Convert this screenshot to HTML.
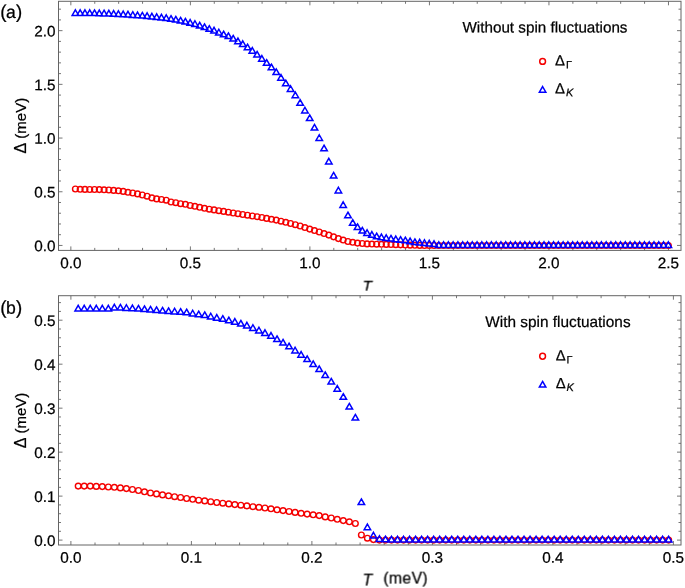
<!DOCTYPE html>
<html><head><meta charset="utf-8"><title>Gap vs temperature</title>
<style>html,body{margin:0;padding:0;background:#fff;}body{width:685px;height:588px;overflow:hidden;font-family:"Liberation Sans",sans-serif;}svg{display:block;}</style>
</head><body>
<svg width="685" height="588" viewBox="0 0 685 588" font-family="Liberation Sans, sans-serif">
<defs><filter id="gs" x="-5%" y="-5%" width="110%" height="110%" color-interpolation-filters="sRGB"><feColorMatrix type="saturate" values="0"/></filter></defs>
<rect width="685" height="588" fill="#fff"/>
<g stroke="#484848" stroke-width="0.75" fill="none">
<path d="M70.85 250.4v-4.0M70.85 1.3v4.0"/>
<path d="M94.75 250.4v-2.5M94.75 1.3v2.5"/>
<path d="M118.66 250.4v-2.5M118.66 1.3v2.5"/>
<path d="M142.56 250.4v-2.5M142.56 1.3v2.5"/>
<path d="M166.47 250.4v-2.5M166.47 1.3v2.5"/>
<path d="M190.38 250.4v-4.0M190.38 1.3v4.0"/>
<path d="M214.28 250.4v-2.5M214.28 1.3v2.5"/>
<path d="M238.19 250.4v-2.5M238.19 1.3v2.5"/>
<path d="M262.09 250.4v-2.5M262.09 1.3v2.5"/>
<path d="M286.00 250.4v-2.5M286.00 1.3v2.5"/>
<path d="M309.90 250.4v-4.0M309.90 1.3v4.0"/>
<path d="M333.81 250.4v-2.5M333.81 1.3v2.5"/>
<path d="M357.71 250.4v-2.5M357.71 1.3v2.5"/>
<path d="M381.62 250.4v-2.5M381.62 1.3v2.5"/>
<path d="M405.52 250.4v-2.5M405.52 1.3v2.5"/>
<path d="M429.43 250.4v-4.0M429.43 1.3v4.0"/>
<path d="M453.33 250.4v-2.5M453.33 1.3v2.5"/>
<path d="M477.24 250.4v-2.5M477.24 1.3v2.5"/>
<path d="M501.14 250.4v-2.5M501.14 1.3v2.5"/>
<path d="M525.04 250.4v-2.5M525.04 1.3v2.5"/>
<path d="M548.95 250.4v-4.0M548.95 1.3v4.0"/>
<path d="M572.86 250.4v-2.5M572.86 1.3v2.5"/>
<path d="M596.76 250.4v-2.5M596.76 1.3v2.5"/>
<path d="M620.66 250.4v-2.5M620.66 1.3v2.5"/>
<path d="M644.57 250.4v-2.5M644.57 1.3v2.5"/>
<path d="M668.48 250.4v-4.0M668.48 1.3v4.0"/>
<path d="M58.5 245.45h4.0M681.0 245.45h-4.0"/>
<path d="M58.5 234.71h2.5M681.0 234.71h-2.5"/>
<path d="M58.5 223.97h2.5M681.0 223.97h-2.5"/>
<path d="M58.5 213.23h2.5M681.0 213.23h-2.5"/>
<path d="M58.5 202.49h2.5M681.0 202.49h-2.5"/>
<path d="M58.5 191.75h4.0M681.0 191.75h-4.0"/>
<path d="M58.5 181.01h2.5M681.0 181.01h-2.5"/>
<path d="M58.5 170.27h2.5M681.0 170.27h-2.5"/>
<path d="M58.5 159.53h2.5M681.0 159.53h-2.5"/>
<path d="M58.5 148.79h2.5M681.0 148.79h-2.5"/>
<path d="M58.5 138.05h4.0M681.0 138.05h-4.0"/>
<path d="M58.5 127.31h2.5M681.0 127.31h-2.5"/>
<path d="M58.5 116.57h2.5M681.0 116.57h-2.5"/>
<path d="M58.5 105.83h2.5M681.0 105.83h-2.5"/>
<path d="M58.5 95.09h2.5M681.0 95.09h-2.5"/>
<path d="M58.5 84.35h4.0M681.0 84.35h-4.0"/>
<path d="M58.5 73.61h2.5M681.0 73.61h-2.5"/>
<path d="M58.5 62.87h2.5M681.0 62.87h-2.5"/>
<path d="M58.5 52.13h2.5M681.0 52.13h-2.5"/>
<path d="M58.5 41.39h2.5M681.0 41.39h-2.5"/>
<path d="M58.5 30.65h4.0M681.0 30.65h-4.0"/>
<path d="M58.5 19.91h2.5M681.0 19.91h-2.5"/>
<path d="M58.5 9.17h2.5M681.0 9.17h-2.5"/>
</g>
<rect x="58.5" y="1.3" width="622.5" height="249.1" fill="none" stroke="#646464" stroke-width="1"/>
<g fill="none" stroke="#f40000" stroke-width="1.4">
<circle cx="75.38" cy="189.00" r="2.85"/>
<circle cx="80.16" cy="189.30" r="2.85"/>
<circle cx="84.95" cy="189.40" r="2.85"/>
<circle cx="89.73" cy="189.50" r="2.85"/>
<circle cx="94.51" cy="189.50" r="2.85"/>
<circle cx="99.29" cy="189.60" r="2.85"/>
<circle cx="104.07" cy="189.80" r="2.85"/>
<circle cx="108.86" cy="190.00" r="2.85"/>
<circle cx="113.64" cy="190.40" r="2.85"/>
<circle cx="118.42" cy="190.80" r="2.85"/>
<circle cx="123.20" cy="191.40" r="2.85"/>
<circle cx="127.98" cy="192.30" r="2.85"/>
<circle cx="132.77" cy="193.00" r="2.85"/>
<circle cx="137.55" cy="193.90" r="2.85"/>
<circle cx="142.33" cy="195.00" r="2.85"/>
<circle cx="147.11" cy="196.20" r="2.85"/>
<circle cx="151.89" cy="197.90" r="2.85"/>
<circle cx="156.68" cy="198.90" r="2.85"/>
<circle cx="161.46" cy="199.50" r="2.85"/>
<circle cx="166.24" cy="200.20" r="2.85"/>
<circle cx="171.02" cy="202.00" r="2.85"/>
<circle cx="175.80" cy="202.70" r="2.85"/>
<circle cx="180.59" cy="203.70" r="2.85"/>
<circle cx="185.37" cy="204.30" r="2.85"/>
<circle cx="190.15" cy="205.50" r="2.85"/>
<circle cx="194.93" cy="206.30" r="2.85"/>
<circle cx="199.71" cy="207.30" r="2.85"/>
<circle cx="204.50" cy="208.30" r="2.85"/>
<circle cx="209.28" cy="209.20" r="2.85"/>
<circle cx="214.06" cy="209.90" r="2.85"/>
<circle cx="218.84" cy="210.70" r="2.85"/>
<circle cx="223.62" cy="211.40" r="2.85"/>
<circle cx="228.41" cy="212.20" r="2.85"/>
<circle cx="233.19" cy="213.00" r="2.85"/>
<circle cx="237.97" cy="213.70" r="2.85"/>
<circle cx="242.75" cy="214.50" r="2.85"/>
<circle cx="247.53" cy="215.20" r="2.85"/>
<circle cx="252.32" cy="216.00" r="2.85"/>
<circle cx="257.10" cy="216.70" r="2.85"/>
<circle cx="261.88" cy="217.50" r="2.85"/>
<circle cx="266.66" cy="218.40" r="2.85"/>
<circle cx="271.44" cy="219.30" r="2.85"/>
<circle cx="276.23" cy="220.10" r="2.85"/>
<circle cx="281.01" cy="221.20" r="2.85"/>
<circle cx="285.79" cy="222.30" r="2.85"/>
<circle cx="290.57" cy="223.50" r="2.85"/>
<circle cx="295.35" cy="224.70" r="2.85"/>
<circle cx="300.14" cy="226.00" r="2.85"/>
<circle cx="304.92" cy="227.55" r="2.85"/>
<circle cx="309.70" cy="229.10" r="2.85"/>
<circle cx="314.48" cy="230.55" r="2.85"/>
<circle cx="319.26" cy="232.00" r="2.85"/>
<circle cx="324.05" cy="233.55" r="2.85"/>
<circle cx="328.83" cy="235.10" r="2.85"/>
<circle cx="333.61" cy="236.85" r="2.85"/>
<circle cx="338.39" cy="238.60" r="2.85"/>
<circle cx="343.17" cy="240.05" r="2.85"/>
<circle cx="347.96" cy="241.50" r="2.85"/>
<circle cx="352.74" cy="242.30" r="2.85"/>
<circle cx="357.52" cy="243.10" r="2.85"/>
<circle cx="362.30" cy="243.50" r="2.85"/>
<circle cx="367.08" cy="243.90" r="2.85"/>
<circle cx="371.87" cy="244.05" r="2.85"/>
<circle cx="376.65" cy="244.20" r="2.85"/>
<circle cx="381.43" cy="244.30" r="2.85"/>
<circle cx="386.21" cy="244.40" r="2.85"/>
<circle cx="390.99" cy="244.55" r="2.85"/>
<circle cx="395.78" cy="244.70" r="2.85"/>
<circle cx="400.56" cy="244.85" r="2.85"/>
<circle cx="405.34" cy="245.00" r="2.85"/>
<circle cx="410.12" cy="245.15" r="2.85"/>
<circle cx="414.90" cy="245.30" r="2.85"/>
<circle cx="419.69" cy="245.40" r="2.85"/>
<circle cx="424.47" cy="245.50" r="2.85"/>
<circle cx="429.25" cy="245.50" r="2.85"/>
<circle cx="434.03" cy="245.50" r="2.85"/>
<circle cx="438.81" cy="245.50" r="2.85"/>
<circle cx="443.60" cy="245.50" r="2.85"/>
<circle cx="448.38" cy="245.50" r="2.85"/>
<circle cx="453.16" cy="245.50" r="2.85"/>
<circle cx="457.94" cy="245.50" r="2.85"/>
<circle cx="462.72" cy="245.50" r="2.85"/>
<circle cx="467.51" cy="245.50" r="2.85"/>
<circle cx="472.29" cy="245.50" r="2.85"/>
<circle cx="477.07" cy="245.50" r="2.85"/>
<circle cx="481.85" cy="245.50" r="2.85"/>
<circle cx="486.63" cy="245.50" r="2.85"/>
<circle cx="491.42" cy="245.50" r="2.85"/>
<circle cx="496.20" cy="245.50" r="2.85"/>
<circle cx="500.98" cy="245.50" r="2.85"/>
<circle cx="505.76" cy="245.50" r="2.85"/>
<circle cx="510.54" cy="245.50" r="2.85"/>
<circle cx="515.33" cy="245.50" r="2.85"/>
<circle cx="520.11" cy="245.50" r="2.85"/>
<circle cx="524.89" cy="245.50" r="2.85"/>
<circle cx="529.67" cy="245.50" r="2.85"/>
<circle cx="534.45" cy="245.50" r="2.85"/>
<circle cx="539.24" cy="245.50" r="2.85"/>
<circle cx="544.02" cy="245.50" r="2.85"/>
<circle cx="548.80" cy="245.50" r="2.85"/>
<circle cx="553.58" cy="245.50" r="2.85"/>
<circle cx="558.36" cy="245.50" r="2.85"/>
<circle cx="563.15" cy="245.50" r="2.85"/>
<circle cx="567.93" cy="245.50" r="2.85"/>
<circle cx="572.71" cy="245.50" r="2.85"/>
<circle cx="577.49" cy="245.50" r="2.85"/>
<circle cx="582.27" cy="245.50" r="2.85"/>
<circle cx="587.06" cy="245.50" r="2.85"/>
<circle cx="591.84" cy="245.50" r="2.85"/>
<circle cx="596.62" cy="245.50" r="2.85"/>
<circle cx="601.40" cy="245.50" r="2.85"/>
<circle cx="606.18" cy="245.50" r="2.85"/>
<circle cx="610.97" cy="245.50" r="2.85"/>
<circle cx="615.75" cy="245.50" r="2.85"/>
<circle cx="620.53" cy="245.50" r="2.85"/>
<circle cx="625.31" cy="245.50" r="2.85"/>
<circle cx="630.09" cy="245.50" r="2.85"/>
<circle cx="634.88" cy="245.50" r="2.85"/>
<circle cx="639.66" cy="245.50" r="2.85"/>
<circle cx="644.44" cy="245.50" r="2.85"/>
<circle cx="649.22" cy="245.50" r="2.85"/>
<circle cx="654.00" cy="245.50" r="2.85"/>
<circle cx="658.79" cy="245.50" r="2.85"/>
<circle cx="663.57" cy="245.50" r="2.85"/>
<circle cx="668.35" cy="245.50" r="2.85"/>
</g>
<g fill="none" stroke="#0000ff" stroke-width="1.5" stroke-linejoin="miter">
<path d="M75.38 9.85L78.63 15.50L72.13 15.50ZM80.16 9.85L83.41 15.50L76.91 15.50ZM84.95 9.85L88.20 15.50L81.70 15.50ZM89.73 9.85L92.98 15.50L86.48 15.50ZM94.51 9.98L97.76 15.62L91.26 15.62ZM99.29 10.10L102.54 15.75L96.04 15.75ZM104.07 10.23L107.32 15.88L100.82 15.88ZM108.86 10.35L112.11 16.00L105.61 16.00ZM113.64 10.60L116.89 16.25L110.39 16.25ZM118.42 10.85L121.67 16.50L115.17 16.50ZM123.20 11.10L126.45 16.75L119.95 16.75ZM127.98 11.35L131.23 17.00L124.73 17.00ZM132.77 11.73L136.02 17.38L129.52 17.38ZM137.55 12.10L140.80 17.75L134.30 17.75ZM142.33 12.48L145.58 18.12L139.08 18.12ZM147.11 12.85L150.36 18.50L143.86 18.50ZM151.89 13.35L155.14 19.00L148.64 19.00ZM156.68 13.85L159.93 19.50L153.43 19.50ZM161.46 14.35L164.71 20.00L158.21 20.00ZM166.24 14.85L169.49 20.50L162.99 20.50ZM171.02 15.65L174.27 21.30L167.77 21.30ZM175.80 16.45L179.05 22.10L172.55 22.10ZM180.59 17.45L183.84 23.10L177.34 23.10ZM185.37 18.45L188.62 24.10L182.12 24.10ZM190.15 19.55L193.40 25.20L186.90 25.20ZM194.93 20.75L198.18 26.40L191.68 26.40ZM199.71 22.35L202.96 28.00L196.46 28.00ZM204.50 23.95L207.75 29.60L201.25 29.60ZM209.28 25.65L212.53 31.30L206.03 31.30ZM214.06 27.35L217.31 33.00L210.81 33.00ZM218.84 29.25L222.09 34.90L215.59 34.90ZM223.62 31.15L226.87 36.80L220.37 36.80ZM228.41 32.95L231.66 38.60L225.16 38.60ZM233.19 35.45L236.44 41.10L229.94 41.10ZM237.97 38.05L241.22 43.70L234.72 43.70ZM242.75 40.85L246.00 46.50L239.50 46.50ZM247.53 44.15L250.78 49.80L244.28 49.80ZM252.32 47.55L255.57 53.20L249.07 53.20ZM257.10 51.45L260.35 57.10L253.85 57.10ZM261.88 55.55L265.13 61.20L258.63 61.20ZM266.66 59.65L269.91 65.30L263.41 65.30ZM271.44 64.15L274.69 69.80L268.19 69.80ZM276.23 68.95L279.48 74.60L272.98 74.60ZM281.01 74.55L284.26 80.20L277.76 80.20ZM285.79 80.15L289.04 85.80L282.54 85.80ZM290.57 85.75L293.82 91.40L287.32 91.40ZM295.35 92.05L298.60 97.70L292.10 97.70ZM300.14 99.65L303.39 105.30L296.89 105.30ZM304.92 107.25L308.17 112.90L301.67 112.90ZM309.70 114.95L312.95 120.60L306.45 120.60ZM314.48 124.45L317.73 130.10L311.23 130.10ZM319.26 134.75L322.51 140.40L316.01 140.40ZM324.05 145.15L327.30 150.80L320.80 150.80ZM328.83 158.35L332.08 164.00L325.58 164.00ZM333.61 172.45L336.86 178.10L330.36 178.10ZM338.39 187.25L341.64 192.90L335.14 192.90ZM343.17 201.85L346.42 207.50L339.92 207.50ZM347.96 212.15L351.21 217.80L344.71 217.80ZM352.74 219.65L355.99 225.30L349.49 225.30ZM357.52 223.95L360.77 229.60L354.27 229.60ZM362.30 227.45L365.55 233.10L359.05 233.10ZM367.08 229.75L370.33 235.40L363.83 235.40ZM371.87 231.55L375.12 237.20L368.62 237.20ZM376.65 233.15L379.90 238.80L373.40 238.80ZM381.43 234.05L384.68 239.70L378.18 239.70ZM386.21 234.85L389.46 240.50L382.96 240.50ZM390.99 235.45L394.24 241.10L387.74 241.10ZM395.78 236.05L399.03 241.70L392.53 241.70ZM400.56 236.65L403.81 242.30L397.31 242.30ZM405.34 237.15L408.59 242.80L402.09 242.80ZM410.12 238.05L413.37 243.70L406.87 243.70ZM414.90 238.95L418.15 244.60L411.65 244.60ZM419.69 239.35L422.94 245.00L416.44 245.00ZM424.47 239.75L427.72 245.40L421.22 245.40ZM429.25 240.25L432.50 245.90L426.00 245.90ZM434.03 240.85L437.28 246.50L430.78 246.50ZM438.81 241.85L442.06 247.50L435.56 247.50ZM443.60 241.85L446.85 247.50L440.35 247.50ZM448.38 241.85L451.63 247.50L445.13 247.50ZM453.16 241.85L456.41 247.50L449.91 247.50ZM457.94 241.85L461.19 247.50L454.69 247.50ZM462.72 241.85L465.97 247.50L459.47 247.50ZM467.51 241.85L470.76 247.50L464.26 247.50ZM472.29 241.85L475.54 247.50L469.04 247.50ZM477.07 241.85L480.32 247.50L473.82 247.50ZM481.85 241.85L485.10 247.50L478.60 247.50ZM486.63 241.85L489.88 247.50L483.38 247.50ZM491.42 241.85L494.67 247.50L488.17 247.50ZM496.20 241.85L499.45 247.50L492.95 247.50ZM500.98 241.85L504.23 247.50L497.73 247.50ZM505.76 241.85L509.01 247.50L502.51 247.50ZM510.54 241.85L513.79 247.50L507.29 247.50ZM515.33 241.85L518.58 247.50L512.08 247.50ZM520.11 241.85L523.36 247.50L516.86 247.50ZM524.89 241.85L528.14 247.50L521.64 247.50ZM529.67 241.85L532.92 247.50L526.42 247.50ZM534.45 241.85L537.70 247.50L531.20 247.50ZM539.24 241.85L542.49 247.50L535.99 247.50ZM544.02 241.85L547.27 247.50L540.77 247.50ZM548.80 241.85L552.05 247.50L545.55 247.50ZM553.58 241.85L556.83 247.50L550.33 247.50ZM558.36 241.85L561.61 247.50L555.11 247.50ZM563.15 241.85L566.40 247.50L559.90 247.50ZM567.93 241.85L571.18 247.50L564.68 247.50ZM572.71 241.85L575.96 247.50L569.46 247.50ZM577.49 241.85L580.74 247.50L574.24 247.50ZM582.27 241.85L585.52 247.50L579.02 247.50ZM587.06 241.85L590.31 247.50L583.81 247.50ZM591.84 241.85L595.09 247.50L588.59 247.50ZM596.62 241.85L599.87 247.50L593.37 247.50ZM601.40 241.85L604.65 247.50L598.15 247.50ZM606.18 241.85L609.43 247.50L602.93 247.50ZM610.97 241.85L614.22 247.50L607.72 247.50ZM615.75 241.85L619.00 247.50L612.50 247.50ZM620.53 241.85L623.78 247.50L617.28 247.50ZM625.31 241.85L628.56 247.50L622.06 247.50ZM630.09 241.85L633.34 247.50L626.84 247.50ZM634.88 241.85L638.13 247.50L631.63 247.50ZM639.66 241.85L642.91 247.50L636.41 247.50ZM644.44 241.85L647.69 247.50L641.19 247.50ZM649.22 241.85L652.47 247.50L645.97 247.50ZM654.00 241.85L657.25 247.50L650.75 247.50ZM658.79 241.85L662.04 247.50L655.54 247.50ZM663.57 241.85L666.82 247.50L660.32 247.50ZM668.35 241.85L671.60 247.50L665.10 247.50Z"/>
</g>
<g stroke="#484848" stroke-width="0.75" fill="none">
<path d="M70.90 545.0v-4.0M70.90 295.7v4.0"/>
<path d="M95.00 545.0v-2.5M95.00 295.7v2.5"/>
<path d="M119.10 545.0v-2.5M119.10 295.7v2.5"/>
<path d="M143.20 545.0v-2.5M143.20 295.7v2.5"/>
<path d="M167.30 545.0v-2.5M167.30 295.7v2.5"/>
<path d="M191.40 545.0v-4.0M191.40 295.7v4.0"/>
<path d="M215.50 545.0v-2.5M215.50 295.7v2.5"/>
<path d="M239.60 545.0v-2.5M239.60 295.7v2.5"/>
<path d="M263.70 545.0v-2.5M263.70 295.7v2.5"/>
<path d="M287.80 545.0v-2.5M287.80 295.7v2.5"/>
<path d="M311.90 545.0v-4.0M311.90 295.7v4.0"/>
<path d="M336.00 545.0v-2.5M336.00 295.7v2.5"/>
<path d="M360.10 545.0v-2.5M360.10 295.7v2.5"/>
<path d="M384.20 545.0v-2.5M384.20 295.7v2.5"/>
<path d="M408.30 545.0v-2.5M408.30 295.7v2.5"/>
<path d="M432.40 545.0v-4.0M432.40 295.7v4.0"/>
<path d="M456.50 545.0v-2.5M456.50 295.7v2.5"/>
<path d="M480.60 545.0v-2.5M480.60 295.7v2.5"/>
<path d="M504.70 545.0v-2.5M504.70 295.7v2.5"/>
<path d="M528.80 545.0v-2.5M528.80 295.7v2.5"/>
<path d="M552.90 545.0v-4.0M552.90 295.7v4.0"/>
<path d="M577.00 545.0v-2.5M577.00 295.7v2.5"/>
<path d="M601.10 545.0v-2.5M601.10 295.7v2.5"/>
<path d="M625.20 545.0v-2.5M625.20 295.7v2.5"/>
<path d="M649.30 545.0v-2.5M649.30 295.7v2.5"/>
<path d="M673.40 545.0v-4.0M673.40 295.7v4.0"/>
<path d="M58.5 540.10h4.0M681.0 540.10h-4.0"/>
<path d="M58.5 531.30h2.5M681.0 531.30h-2.5"/>
<path d="M58.5 522.51h2.5M681.0 522.51h-2.5"/>
<path d="M58.5 513.71h2.5M681.0 513.71h-2.5"/>
<path d="M58.5 504.92h2.5M681.0 504.92h-2.5"/>
<path d="M58.5 496.12h4.0M681.0 496.12h-4.0"/>
<path d="M58.5 487.32h2.5M681.0 487.32h-2.5"/>
<path d="M58.5 478.53h2.5M681.0 478.53h-2.5"/>
<path d="M58.5 469.73h2.5M681.0 469.73h-2.5"/>
<path d="M58.5 460.94h2.5M681.0 460.94h-2.5"/>
<path d="M58.5 452.14h4.0M681.0 452.14h-4.0"/>
<path d="M58.5 443.34h2.5M681.0 443.34h-2.5"/>
<path d="M58.5 434.55h2.5M681.0 434.55h-2.5"/>
<path d="M58.5 425.75h2.5M681.0 425.75h-2.5"/>
<path d="M58.5 416.96h2.5M681.0 416.96h-2.5"/>
<path d="M58.5 408.16h4.0M681.0 408.16h-4.0"/>
<path d="M58.5 399.36h2.5M681.0 399.36h-2.5"/>
<path d="M58.5 390.57h2.5M681.0 390.57h-2.5"/>
<path d="M58.5 381.77h2.5M681.0 381.77h-2.5"/>
<path d="M58.5 372.98h2.5M681.0 372.98h-2.5"/>
<path d="M58.5 364.18h4.0M681.0 364.18h-4.0"/>
<path d="M58.5 355.38h2.5M681.0 355.38h-2.5"/>
<path d="M58.5 346.59h2.5M681.0 346.59h-2.5"/>
<path d="M58.5 337.79h2.5M681.0 337.79h-2.5"/>
<path d="M58.5 329.00h2.5M681.0 329.00h-2.5"/>
<path d="M58.5 320.20h4.0M681.0 320.20h-4.0"/>
<path d="M58.5 311.40h2.5M681.0 311.40h-2.5"/>
<path d="M58.5 302.61h2.5M681.0 302.61h-2.5"/>
</g>
<rect x="58.5" y="295.7" width="622.5" height="249.3" fill="none" stroke="#646464" stroke-width="1"/>
<g fill="none" stroke="#f40000" stroke-width="1.4">
<circle cx="78.20" cy="486.10" r="2.85"/>
<circle cx="84.23" cy="486.10" r="2.85"/>
<circle cx="90.25" cy="486.10" r="2.85"/>
<circle cx="96.28" cy="486.40" r="2.85"/>
<circle cx="102.30" cy="486.60" r="2.85"/>
<circle cx="108.33" cy="487.00" r="2.85"/>
<circle cx="114.35" cy="487.30" r="2.85"/>
<circle cx="120.38" cy="487.90" r="2.85"/>
<circle cx="126.40" cy="488.60" r="2.85"/>
<circle cx="132.43" cy="489.50" r="2.85"/>
<circle cx="138.45" cy="490.50" r="2.85"/>
<circle cx="144.48" cy="491.80" r="2.85"/>
<circle cx="150.50" cy="493.00" r="2.85"/>
<circle cx="156.53" cy="493.90" r="2.85"/>
<circle cx="162.55" cy="494.90" r="2.85"/>
<circle cx="168.57" cy="495.80" r="2.85"/>
<circle cx="174.60" cy="496.70" r="2.85"/>
<circle cx="180.62" cy="497.50" r="2.85"/>
<circle cx="186.65" cy="498.50" r="2.85"/>
<circle cx="192.68" cy="499.30" r="2.85"/>
<circle cx="198.70" cy="500.20" r="2.85"/>
<circle cx="204.73" cy="500.90" r="2.85"/>
<circle cx="210.75" cy="501.70" r="2.85"/>
<circle cx="216.78" cy="502.50" r="2.85"/>
<circle cx="222.80" cy="503.20" r="2.85"/>
<circle cx="228.82" cy="503.90" r="2.85"/>
<circle cx="234.85" cy="504.60" r="2.85"/>
<circle cx="240.88" cy="505.20" r="2.85"/>
<circle cx="246.90" cy="505.90" r="2.85"/>
<circle cx="252.93" cy="506.70" r="2.85"/>
<circle cx="258.95" cy="507.30" r="2.85"/>
<circle cx="264.98" cy="508.00" r="2.85"/>
<circle cx="271.00" cy="508.80" r="2.85"/>
<circle cx="277.03" cy="509.80" r="2.85"/>
<circle cx="283.05" cy="510.60" r="2.85"/>
<circle cx="289.07" cy="511.50" r="2.85"/>
<circle cx="295.10" cy="512.40" r="2.85"/>
<circle cx="301.12" cy="513.30" r="2.85"/>
<circle cx="307.15" cy="514.10" r="2.85"/>
<circle cx="313.18" cy="514.80" r="2.85"/>
<circle cx="319.20" cy="515.60" r="2.85"/>
<circle cx="325.23" cy="516.90" r="2.85"/>
<circle cx="331.25" cy="518.00" r="2.85"/>
<circle cx="337.27" cy="519.30" r="2.85"/>
<circle cx="343.30" cy="520.60" r="2.85"/>
<circle cx="349.32" cy="521.80" r="2.85"/>
<circle cx="355.35" cy="523.50" r="2.85"/>
<circle cx="361.38" cy="535.00" r="2.85"/>
<circle cx="367.40" cy="538.20" r="2.85"/>
<circle cx="373.43" cy="539.60" r="2.85"/>
<circle cx="379.45" cy="540.10" r="2.85"/>
<circle cx="385.48" cy="540.10" r="2.85"/>
<circle cx="391.50" cy="540.10" r="2.85"/>
<circle cx="397.53" cy="540.10" r="2.85"/>
<circle cx="403.55" cy="540.10" r="2.85"/>
<circle cx="409.57" cy="540.10" r="2.85"/>
<circle cx="415.60" cy="540.10" r="2.85"/>
<circle cx="421.62" cy="540.10" r="2.85"/>
<circle cx="427.65" cy="540.10" r="2.85"/>
<circle cx="433.68" cy="540.10" r="2.85"/>
<circle cx="439.70" cy="540.10" r="2.85"/>
<circle cx="445.73" cy="540.10" r="2.85"/>
<circle cx="451.75" cy="540.10" r="2.85"/>
<circle cx="457.78" cy="540.10" r="2.85"/>
<circle cx="463.80" cy="540.10" r="2.85"/>
<circle cx="469.82" cy="540.10" r="2.85"/>
<circle cx="475.85" cy="540.10" r="2.85"/>
<circle cx="481.88" cy="540.10" r="2.85"/>
<circle cx="487.90" cy="540.10" r="2.85"/>
<circle cx="493.93" cy="540.10" r="2.85"/>
<circle cx="499.95" cy="540.10" r="2.85"/>
<circle cx="505.98" cy="540.10" r="2.85"/>
<circle cx="512.00" cy="540.10" r="2.85"/>
<circle cx="518.03" cy="540.10" r="2.85"/>
<circle cx="524.05" cy="540.10" r="2.85"/>
<circle cx="530.08" cy="540.10" r="2.85"/>
<circle cx="536.10" cy="540.10" r="2.85"/>
<circle cx="542.12" cy="540.10" r="2.85"/>
<circle cx="548.15" cy="540.10" r="2.85"/>
<circle cx="554.18" cy="540.10" r="2.85"/>
<circle cx="560.20" cy="540.10" r="2.85"/>
<circle cx="566.23" cy="540.10" r="2.85"/>
<circle cx="572.25" cy="540.10" r="2.85"/>
<circle cx="578.28" cy="540.10" r="2.85"/>
<circle cx="584.30" cy="540.10" r="2.85"/>
<circle cx="590.33" cy="540.10" r="2.85"/>
<circle cx="596.35" cy="540.10" r="2.85"/>
<circle cx="602.38" cy="540.10" r="2.85"/>
<circle cx="608.40" cy="540.10" r="2.85"/>
<circle cx="614.43" cy="540.10" r="2.85"/>
<circle cx="620.45" cy="540.10" r="2.85"/>
<circle cx="626.48" cy="540.10" r="2.85"/>
<circle cx="632.50" cy="540.10" r="2.85"/>
<circle cx="638.53" cy="540.10" r="2.85"/>
<circle cx="644.55" cy="540.10" r="2.85"/>
<circle cx="650.58" cy="540.10" r="2.85"/>
<circle cx="656.60" cy="540.10" r="2.85"/>
<circle cx="662.63" cy="540.10" r="2.85"/>
<circle cx="668.65" cy="540.10" r="2.85"/>
</g>
<g fill="none" stroke="#0000ff" stroke-width="1.5" stroke-linejoin="miter">
<path d="M78.20 305.35L81.45 311.00L74.95 311.00ZM84.23 305.35L87.48 311.00L80.98 311.00ZM90.25 305.35L93.50 311.00L87.00 311.00ZM96.28 305.35L99.53 311.00L93.03 311.00ZM102.30 305.35L105.55 311.00L99.05 311.00ZM108.33 305.35L111.58 311.00L105.08 311.00ZM114.35 304.35L117.60 310.00L111.10 310.00ZM120.38 304.45L123.62 310.10L117.12 310.10ZM126.40 304.75L129.65 310.40L123.15 310.40ZM132.43 305.05L135.68 310.70L129.18 310.70ZM138.45 305.45L141.70 311.10L135.20 311.10ZM144.48 305.95L147.73 311.60L141.23 311.60ZM150.50 306.45L153.75 312.10L147.25 312.10ZM156.53 306.95L159.78 312.60L153.28 312.60ZM162.55 307.45L165.80 313.10L159.30 313.10ZM168.57 307.95L171.82 313.60L165.32 313.60ZM174.60 308.25L177.85 313.90L171.35 313.90ZM180.62 308.65L183.88 314.30L177.38 314.30ZM186.65 309.15L189.90 314.80L183.40 314.80ZM192.68 310.25L195.93 315.90L189.43 315.90ZM198.70 311.15L201.95 316.80L195.45 316.80ZM204.73 311.95L207.98 317.60L201.48 317.60ZM210.75 313.25L214.00 318.90L207.50 318.90ZM216.78 314.55L220.03 320.20L213.53 320.20ZM222.80 315.65L226.05 321.30L219.55 321.30ZM228.82 317.15L232.07 322.80L225.57 322.80ZM234.85 318.55L238.10 324.20L231.60 324.20ZM240.88 320.45L244.12 326.10L237.62 326.10ZM246.90 322.35L250.15 328.00L243.65 328.00ZM252.93 324.75L256.18 330.40L249.68 330.40ZM258.95 327.25L262.20 332.90L255.70 332.90ZM264.98 329.85L268.23 335.50L261.73 335.50ZM271.00 332.55L274.25 338.20L267.75 338.20ZM277.03 335.95L280.28 341.60L273.78 341.60ZM283.05 339.45L286.30 345.10L279.80 345.10ZM289.07 343.15L292.32 348.80L285.82 348.80ZM295.10 347.25L298.35 352.90L291.85 352.90ZM301.12 351.55L304.38 357.20L297.88 357.20ZM307.15 355.95L310.40 361.60L303.90 361.60ZM313.18 360.95L316.43 366.60L309.93 366.60ZM319.20 365.95L322.45 371.60L315.95 371.60ZM325.23 371.95L328.48 377.60L321.98 377.60ZM331.25 378.45L334.50 384.10L328.00 384.10ZM337.27 385.55L340.52 391.20L334.02 391.20ZM343.30 393.65L346.55 399.30L340.05 399.30ZM349.32 403.45L352.57 409.10L346.07 409.10ZM355.35 414.45L358.60 420.10L352.10 420.10ZM361.38 498.95L364.62 504.60L358.12 504.60ZM367.40 524.05L370.65 529.70L364.15 529.70ZM373.43 532.35L376.68 538.00L370.18 538.00ZM379.45 535.75L382.70 541.40L376.20 541.40ZM385.48 536.15L388.73 541.80L382.23 541.80ZM391.50 536.35L394.75 542.00L388.25 542.00ZM397.53 536.35L400.78 542.00L394.28 542.00ZM403.55 536.35L406.80 542.00L400.30 542.00ZM409.57 536.35L412.82 542.00L406.32 542.00ZM415.60 536.35L418.85 542.00L412.35 542.00ZM421.62 536.35L424.88 542.00L418.38 542.00ZM427.65 536.35L430.90 542.00L424.40 542.00ZM433.68 536.35L436.93 542.00L430.43 542.00ZM439.70 536.35L442.95 542.00L436.45 542.00ZM445.73 536.35L448.98 542.00L442.48 542.00ZM451.75 536.35L455.00 542.00L448.50 542.00ZM457.78 536.35L461.03 542.00L454.53 542.00ZM463.80 536.35L467.05 542.00L460.55 542.00ZM469.82 536.35L473.07 542.00L466.57 542.00ZM475.85 536.35L479.10 542.00L472.60 542.00ZM481.88 536.35L485.12 542.00L478.62 542.00ZM487.90 536.35L491.15 542.00L484.65 542.00ZM493.93 536.35L497.18 542.00L490.68 542.00ZM499.95 536.35L503.20 542.00L496.70 542.00ZM505.98 536.35L509.23 542.00L502.73 542.00ZM512.00 536.35L515.25 542.00L508.75 542.00ZM518.03 536.35L521.28 542.00L514.78 542.00ZM524.05 536.35L527.30 542.00L520.80 542.00ZM530.08 536.35L533.33 542.00L526.83 542.00ZM536.10 536.35L539.35 542.00L532.85 542.00ZM542.12 536.35L545.38 542.00L538.88 542.00ZM548.15 536.35L551.40 542.00L544.90 542.00ZM554.18 536.35L557.43 542.00L550.93 542.00ZM560.20 536.35L563.45 542.00L556.95 542.00ZM566.23 536.35L569.48 542.00L562.98 542.00ZM572.25 536.35L575.50 542.00L569.00 542.00ZM578.28 536.35L581.53 542.00L575.03 542.00ZM584.30 536.35L587.55 542.00L581.05 542.00ZM590.33 536.35L593.58 542.00L587.08 542.00ZM596.35 536.35L599.60 542.00L593.10 542.00ZM602.38 536.35L605.63 542.00L599.13 542.00ZM608.40 536.35L611.65 542.00L605.15 542.00ZM614.43 536.35L617.68 542.00L611.18 542.00ZM620.45 536.35L623.70 542.00L617.20 542.00ZM626.48 536.35L629.73 542.00L623.23 542.00ZM632.50 536.35L635.75 542.00L629.25 542.00ZM638.53 536.35L641.78 542.00L635.28 542.00ZM644.55 536.35L647.80 542.00L641.30 542.00ZM650.58 536.35L653.83 542.00L647.33 542.00ZM656.60 536.35L659.85 542.00L653.35 542.00ZM662.63 536.35L665.88 542.00L659.38 542.00ZM668.65 536.35L671.90 542.00L665.40 542.00Z"/>
</g>
<circle cx="542.6" cy="61.45" r="2.9" fill="none" stroke="#f40000" stroke-width="1.5"/>
<path d="M542.60 86.60L545.85 92.25L539.35 92.25Z" fill="none" stroke="#0000ff" stroke-width="1.5"/>
<circle cx="542.6" cy="356.25" r="2.9" fill="none" stroke="#f40000" stroke-width="1.5"/>
<path d="M542.60 381.40L545.85 387.05L539.35 387.05Z" fill="none" stroke="#0000ff" stroke-width="1.5"/>
<g filter="url(#gs)" fill="#000" stroke="#000" stroke-width="0.24">
<g font-size="15.3" fill="#000">
<text transform="translate(70.85 268.20) rotate(0.03)" text-anchor="middle">0.0</text>
<text transform="translate(190.38 268.20) rotate(0.03)" text-anchor="middle">0.5</text>
<text transform="translate(309.90 268.20) rotate(0.03)" text-anchor="middle">1.0</text>
<text transform="translate(429.43 268.20) rotate(0.03)" text-anchor="middle">1.5</text>
<text transform="translate(548.95 268.20) rotate(0.03)" text-anchor="middle">2.0</text>
<text transform="translate(668.48 268.20) rotate(0.03)" text-anchor="middle">2.5</text>
<text transform="translate(55.5 251.25) rotate(0.03)" text-anchor="end">0.0</text>
<text transform="translate(55.5 197.55) rotate(0.03)" text-anchor="end">0.5</text>
<text transform="translate(55.5 143.85) rotate(0.03)" text-anchor="end">1.0</text>
<text transform="translate(55.5 90.15) rotate(0.03)" text-anchor="end">1.5</text>
<text transform="translate(55.5 36.45) rotate(0.03)" text-anchor="end">2.0</text>
</g>
<g font-size="15.3" fill="#000">
<text transform="translate(70.90 562.80) rotate(0.03)" text-anchor="middle">0.0</text>
<text transform="translate(191.40 562.80) rotate(0.03)" text-anchor="middle">0.1</text>
<text transform="translate(311.90 562.80) rotate(0.03)" text-anchor="middle">0.2</text>
<text transform="translate(432.40 562.80) rotate(0.03)" text-anchor="middle">0.3</text>
<text transform="translate(552.90 562.80) rotate(0.03)" text-anchor="middle">0.4</text>
<text transform="translate(673.40 562.80) rotate(0.03)" text-anchor="middle">0.5</text>
<text transform="translate(55.5 545.90) rotate(0.03)" text-anchor="end">0.0</text>
<text transform="translate(55.5 501.92) rotate(0.03)" text-anchor="end">0.1</text>
<text transform="translate(55.5 457.94) rotate(0.03)" text-anchor="end">0.2</text>
<text transform="translate(55.5 413.96) rotate(0.03)" text-anchor="end">0.3</text>
<text transform="translate(55.5 369.98) rotate(0.03)" text-anchor="end">0.4</text>
<text transform="translate(55.5 326.00) rotate(0.03)" text-anchor="end">0.5</text>
</g>
<text transform="translate(0.2 18.1) rotate(0.03)" font-size="17.6"><tspan font-size="18.7">(</tspan><tspan dx="-0.3">a</tspan><tspan font-size="18.7" dx="0.1">)</tspan></text>
<text transform="translate(0.2 313.8) rotate(0.03)" font-size="17.6"><tspan font-size="18.7">(</tspan><tspan dx="-0.3">b</tspan><tspan font-size="18.7" dx="0.1">)</tspan></text>
<text transform="translate(25.6 125.7) rotate(-90)" font-size="15" text-anchor="middle"><tspan font-size="16">Δ</tspan> (meV)</text>
<text transform="translate(25.6 420.5) rotate(-90)" font-size="15" text-anchor="middle"><tspan font-size="16">Δ</tspan> (meV)</text>
<text transform="translate(362.6 290.7) rotate(0.03)" font-size="15.3" font-style="italic">T</text>
<text transform="translate(362.6 585.6) rotate(0.03)" font-size="15.8"><tspan font-style="italic" font-size="15.8">T</tspan><tspan x="20.8" dy="-1.9" letter-spacing="0.3">(meV)</tspan></text>
<text transform="translate(462.5 32.50) rotate(0.03)" font-size="15.22">Without spin fluctuations</text>
<text transform="translate(555.10 65.60) rotate(0.03)" font-size="14.9">Δ<tspan font-size="10.9" dx="0.9" dy="3.0">Γ</tspan></text>
<text transform="translate(555.10 93.50) rotate(0.03)" font-size="14.9">Δ<tspan font-size="11" dx="0.9" dy="2.7" font-style="italic">K</tspan></text>
<text transform="translate(485.3 326.90) rotate(0.03)" font-size="15.38">With spin fluctuations</text>
<text transform="translate(555.70 360.40) rotate(0.03)" font-size="14.9">Δ<tspan font-size="10.9" dx="0.9" dy="3.0">Γ</tspan></text>
<text transform="translate(555.70 388.30) rotate(0.03)" font-size="14.9">Δ<tspan font-size="11" dx="0.9" dy="2.7" font-style="italic">K</tspan></text>
</g>
</svg>
</body></html>
